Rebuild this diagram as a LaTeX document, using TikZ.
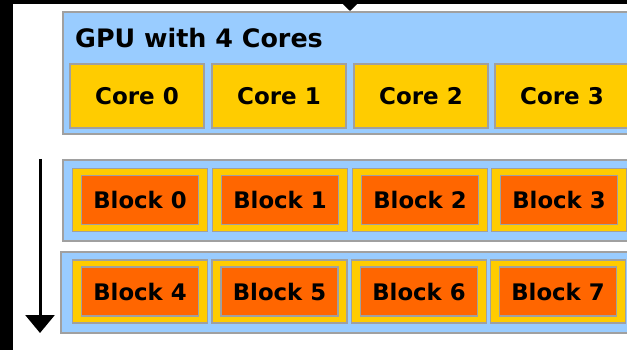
\documentclass[tikz,border=0pt]{standalone}
\usepackage{fontspec}
\setmainfont{DejaVu Sans}
\usepackage{xcolor}
\usepackage{tikz}
\usetikzlibrary{arrows.meta}
\definecolor{gpuBlue}{HTML}{99CCFF}
\definecolor{coreYellow}{HTML}{FFCC00}
\definecolor{blockOrange}{HTML}{FF6600}
\definecolor{edgeGrey}{HTML}{A0A0A0}
\tikzset{
  rowbox/.style={rectangle, draw=edgeGrey, fill=gpuBlue, line width=2pt, inner sep=0pt, minimum width=640pt, minimum height=#1},
  corebox/.style={rectangle, draw=edgeGrey, fill=coreYellow, line width=1.5pt, inner sep=0pt, minimum width=134pt, minimum height=64pt, font=\fontsize{23}{27}\selectfont\bfseries},
  slotbox/.style={rectangle, draw=edgeGrey, fill=coreYellow, line width=1.5pt, inner sep=0pt, minimum width=135pt, minimum height=63pt},
  blockbox/.style={rectangle, draw=edgeGrey, fill=blockOrange, line width=1.5pt, inner sep=0pt, minimum width=117pt, minimum height=49pt, font=\fontsize{22.8}{26}\selectfont\bfseries},
  titlelabel/.style={anchor=west, inner sep=0pt, font=\fontsize{25.4}{29}\selectfont\bfseries},
  orderarrow/.style={-{Triangle[width=29pt,length=18pt]}, line width=3pt, draw=black},
}

\begin{document}
\begin{tikzpicture}[x=1pt,y=-1pt]
      \useasboundingbox (0,0) rectangle (627,350);
      \clip (0,0) rectangle (627,350);
      \fill[white] (0,0) rectangle (627,350);

      % --- the GPU and its cores ---
      \node[rowbox=122pt] (gpu) at (383,73) {};
      \node[titlelabel] (gputitle) at (75,38) {GPU with 4 Cores};

      \node[corebox] (core0) at (137,96) {Core 0};
      \node[corebox] (core1) at (279,96) {Core 1};
      \node[corebox] (core2) at (421,96) {Core 2};
      \node[corebox] (core3) at (562,96) {Core 3};

      % --- first row of blocks ---
      \node[rowbox=81pt] (rowA) at (383,200.5) {};
      \node[slotbox] (slot0) at (140,200) {};
      \node[slotbox] (slot1) at (280,200) {};
      \node[slotbox] (slot2) at (420,200) {};
      \node[slotbox] (slot3) at (559,200) {};
      \node[blockbox] (block0) at (slot0) {Block 0};
      \node[blockbox] (block1) at (slot1) {Block 1};
      \node[blockbox] (block2) at (slot2) {Block 2};
      \node[blockbox] (block3) at (slot3) {Block 3};

      % --- second row of blocks ---
      \node[rowbox=81pt] (rowB) at (381,292.5) {};
      \node[slotbox] (slot4) at (140,291.5) {};
      \node[slotbox] (slot5) at (279.5,291.5) {};
      \node[slotbox] (slot6) at (419,291.5) {};
      \node[slotbox] (slot7) at (558,291.5) {};
      \node[blockbox] (block4) at (slot4) {Block 4};
      \node[blockbox] (block5) at (slot5) {Block 5};
      \node[blockbox] (block6) at (slot6) {Block 6};
      \node[blockbox] (block7) at (slot7) {Block 7};

      % --- arrows ---
      \coordinate (ordtop) at (40,159);
      \coordinate (ordbot) at (40,333);
      \draw[orderarrow] (ordtop) -- (ordbot);

      \coordinate (intop) at (350,-12);
      \draw[-{Triangle[width=20pt,length=10pt]}, line width=2pt] (intop) -- (intop |- gpu.north);

      % --- black frame ---
      \fill[black] (0,0) rectangle (627,4);
      \fill[black] (0,0) rectangle (13,350);
    \end{tikzpicture}
\end{document}
